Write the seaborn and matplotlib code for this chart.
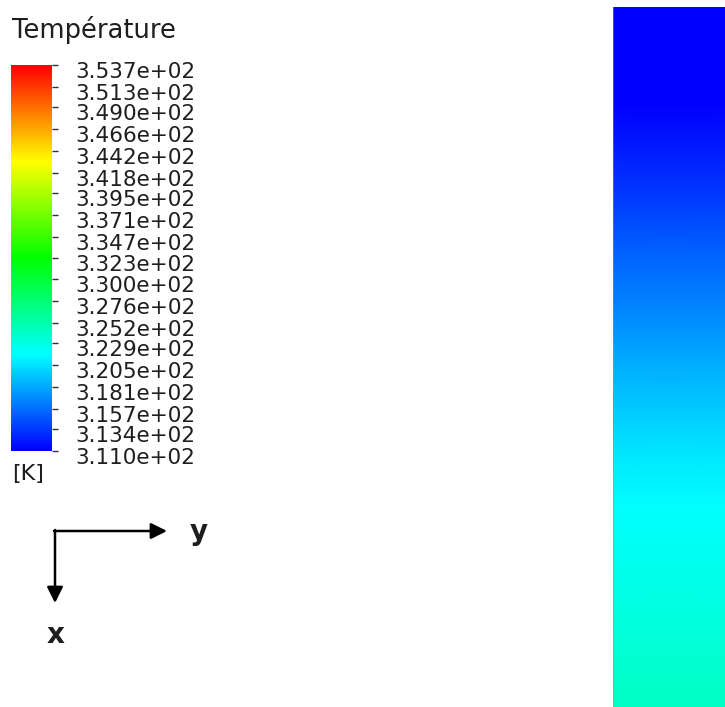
import numpy as np
import pandas as pd
import seaborn as sns
import matplotlib
matplotlib.use("Agg")
import matplotlib.pyplot as plt
from matplotlib.colors import LinearSegmentedColormap
from matplotlib.transforms import ScaledTranslation

# Static temperature along the channel, evenly spaced stations from inlet (top) to outlet
station = list(range(15))
temperature_k = [311.0, 311.0, 311.1, 312.5, 313.7, 315.2, 316.6, 318.1,
                 319.4, 320.8, 321.8, 322.4, 323.0, 323.6, 324.2]
span = ["y0", "y1"]

# Contour legend levels
level_labels = ["3.110e+02", "3.134e+02", "3.157e+02", "3.181e+02", "3.205e+02",
                "3.229e+02", "3.252e+02", "3.276e+02", "3.300e+02", "3.323e+02",
                "3.347e+02", "3.371e+02", "3.395e+02", "3.418e+02", "3.442e+02",
                "3.466e+02", "3.490e+02", "3.513e+02", "3.537e+02"]
level_values = [float(s) for s in level_labels]
t_min, t_max = level_values[0], level_values[-1]

field = pd.DataFrame({c: temperature_k for c in span}, index=station)

sns.set_theme(style="white")
plt.rcParams["font.family"] = ["DejaVu Sans"]

rainbow = LinearSegmentedColormap.from_list(
    "rainbow5", ["#0000ff", "#00ffff", "#00ff00", "#ffff00", "#ff0000"], N=256)

W, H = 725, 707
fig = plt.figure(figsize=(W / 100, H / 100), dpi=100)
fig.patch.set_facecolor("white")

# overlay in pixel coordinates for legend title, unit and axis triad
over = fig.add_axes([0, 0, 1, 1])
over.set_xlim(0, W)
over.set_ylim(H, 0)
over.axis("off")

cax = fig.add_axes([11 / W, (H - 451) / H, 41 / W, 386 / H])
fax = fig.add_axes([613 / W, 0, (W - 613) / W, (H - 7) / H])

sns.heatmap(field, ax=fax, cbar_ax=cax, cmap=rainbow, vmin=t_min, vmax=t_max,
            shading="gouraud", xticklabels=False, yticklabels=False,
            cbar_kws={"ticks": level_values})
fax.set_xlim(0, len(span) - 1)
fax.set_ylim(len(station) - 1, 0)
fax.axis("off")
# thin wall line on the left side of the domain
fax.axvline(0, color="#7a9a9a", lw=1.2, alpha=0.6)

cb = fax.collections[0].colorbar
cb.set_ticks(level_values, labels=level_labels)
cb.outline.set_linewidth(0)
cax.tick_params(axis="y", which="major", right=True, direction="out", length=4,
                width=1, color="#333333", pad=13, labelsize=15.5,
                labelcolor="#1e1e1e")
shift = ScaledTranslation(0, -5 / 100, fig.dpi_scale_trans)
for tk in cax.yaxis.get_major_ticks():
    tk.label1.set_transform(tk.label1.get_transform() + shift)
    tk.label2.set_transform(tk.label2.get_transform() + shift)

over.text(12, 38, "Température", fontsize=18.5, color="#1e1e1e",
          ha="left", va="baseline")
over.text(12, 474, "[K]", fontsize=16, color="#1e1e1e", ha="left", va="center")

# axis triad
arrow = dict(arrowstyle="-|>", lw=1.8, color="black", mutation_scale=24,
             shrinkA=0, shrinkB=0)
over.annotate("", xy=(167, 531), xytext=(54, 531), arrowprops=arrow)
over.annotate("", xy=(55, 603), xytext=(55, 530), arrowprops=arrow)
over.text(199, 532, "y", fontsize=20, fontweight="bold", color="#1e1e1e",
          ha="center", va="center")
over.text(56, 635, "x", fontsize=20, fontweight="bold", color="#1e1e1e",
          ha="center", va="center")

fig.savefig("out.png", dpi=100, facecolor="white")
